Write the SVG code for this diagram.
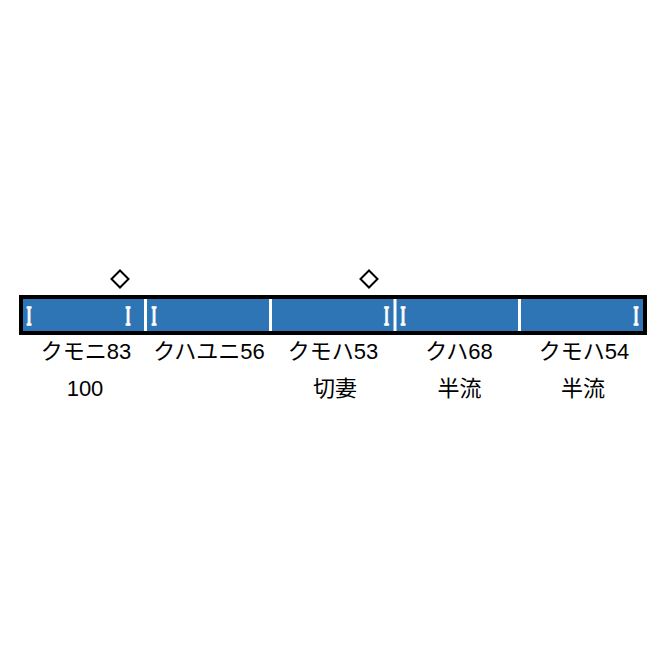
<svg xmlns="http://www.w3.org/2000/svg" width="670" height="670" viewBox="0 0 670 670">
  <style>
    .lbl { font-family: "Liberation Sans", "Noto Sans CJK JP", sans-serif; font-size: 22px; fill: #000; text-anchor: middle; }
    .mark { font-family: "Liberation Serif", serif; font-weight: bold; font-size: 27px; fill: #fff; stroke: #fff; stroke-width: 1.3; }
    .sep { stroke: #fff; stroke-width: 3; }
    .dia { fill: #fff; stroke: #000; stroke-width: 2; }
  </style>
  <rect width="670" height="670" fill="#fff"/>
  <g id="train">
    <rect x="21" y="297" width="624" height="36" fill="#2E75B6" stroke="#000" stroke-width="4"/>
    <line class="sep" x1="145.5" y1="299" x2="145.5" y2="331"/>
    <line class="sep" x1="270.5" y1="299" x2="270.5" y2="331"/>
    <line class="sep" x1="395" y1="299" x2="395" y2="331"/>
    <line class="sep" x1="519.5" y1="299" x2="519.5" y2="331"/>
  </g>
  <g id="car1">
    <text class="mark" x="26.5" y="324.5" textLength="5" lengthAdjust="spacingAndGlyphs">I</text>
    <text class="mark" x="125.5" y="324.5" textLength="5" lengthAdjust="spacingAndGlyphs">I</text>
    <polygon class="dia" points="120,270.5 128.5,279 120,287.5 111.5,279"/>
    <text class="lbl" x="86" y="358.5">クモニ83</text>
    <text class="lbl" x="85" y="395.5">100</text>
  </g>
  <g id="car2">
    <text class="mark" x="151.5" y="324.5" textLength="5" lengthAdjust="spacingAndGlyphs">I</text>
    <text class="lbl" x="209" y="358.5">クハユニ56</text>
  </g>
  <g id="car3">
    <text class="mark" x="384" y="324.5" textLength="5" lengthAdjust="spacingAndGlyphs">I</text>
    <polygon class="dia" points="369,270.5 377.5,279 369,287.5 360.5,279"/>
    <text class="lbl" x="333" y="358.5">クモハ53</text>
    <text class="lbl" x="335" y="395.5">切妻</text>
  </g>
  <g id="car4">
    <text class="mark" x="400.5" y="324.5" textLength="5" lengthAdjust="spacingAndGlyphs">I</text>
    <text class="lbl" x="459" y="358.5">クハ68</text>
    <text class="lbl" x="459.5" y="395.5">半流</text>
  </g>
  <g id="car5">
    <text class="mark" x="633.5" y="324.5" textLength="5" lengthAdjust="spacingAndGlyphs">I</text>
    <text class="lbl" x="584" y="358.5">クモハ54</text>
    <text class="lbl" x="583" y="395.5">半流</text>
  </g>
  <g id="connectors"/>
</svg>
